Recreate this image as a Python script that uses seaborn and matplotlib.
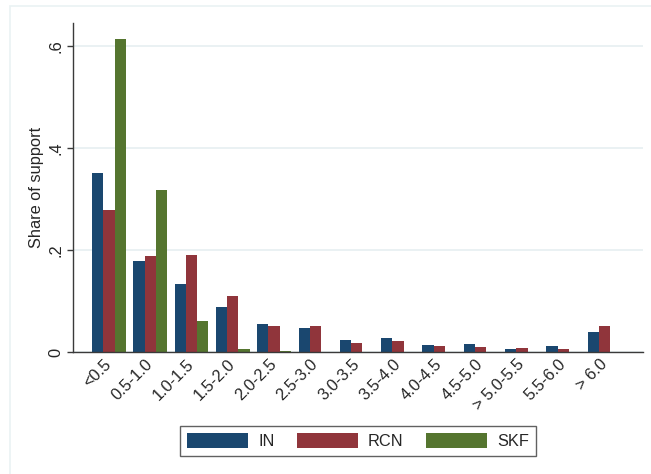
import numpy as np
import pandas as pd
import matplotlib
matplotlib.use('Agg')
import matplotlib.pyplot as plt
import seaborn as sns
from matplotlib.patches import Rectangle
from matplotlib.ticker import FuncFormatter

# data
bins = ['<0.5', '0.5-1.0', '1.0-1.5', '1.5-2.0', '2.0-2.5', '2.5-3.0', '3.0-3.5',
        '3.5-4.0', '4.0-4.5', '4.5-5.0', '> 5.0-5.5', '5.5-6.0', '> 6.0']
share_in = [0.351, 0.179, 0.134, 0.089, 0.056, 0.048, 0.024, 0.027, 0.014, 0.016, 0.007, 0.013, 0.040]
share_rcn = [0.279, 0.188, 0.190, 0.110, 0.052, 0.051, 0.018, 0.023, 0.012, 0.011, 0.008, 0.006, 0.051]
share_skf = [0.613, 0.318, 0.061, 0.006, 0.002, 0.0, 0.0, 0.0, 0.0, 0.0, 0.0, 0.0, 0.0]
groups = ['IN', 'RCN', 'SKF']
colors = ['#1a476f', '#90353b', '#55752f']

df = pd.DataFrame({
    'bin': bins * 3,
    'share': share_in + share_rcn + share_skf,
    'group': ['IN'] * len(bins) + ['RCN'] * len(bins) + ['SKF'] * len(bins),
})

sns.set_style('white')
plt.rcParams['font.family'] = ['Liberation Sans', 'DejaVu Sans']
fs = 11.8

fig = plt.figure(figsize=(6.51, 4.74), dpi=100)
ax = fig.add_axes([0.1121, 0.2568, 0.8756, 0.6947])

sns.barplot(data=df, x='bin', y='share', hue='group', order=bins, hue_order=groups,
            palette=colors, saturation=1, width=0.82, linewidth=0, ax=ax)

ax.set_xlim(-0.87, 12.93)
ax.set_ylim(0, 0.645)
ax.set_yticks([0, 0.2, 0.4, 0.6])
ax.yaxis.set_major_formatter(FuncFormatter(lambda v, p: '0' if v == 0 else ('%.1f' % v).lstrip('0')))
ax.grid(axis='y', color='#e6eff1', linewidth=1.2)
ax.set_axisbelow(True)

for s in ['top', 'right']:
    ax.spines[s].set_visible(False)
for s in ['left', 'bottom']:
    ax.spines[s].set_color('#3a3a3a')
    ax.spines[s].set_linewidth(1.0)

ax.tick_params(axis='y', length=4, width=1, color='#3a3a3a', pad=3, labelsize=fs, left=True)
for t in ax.get_yticklabels():
    t.set_rotation(90)
    t.set_va('center')
ax.tick_params(axis='x', length=0, pad=7, labelsize=fs)
for t in ax.get_xticklabels():
    t.set_rotation(45)
    t.set_ha('right')
    t.set_va('center')
    t.set_rotation_mode('anchor')

ax.set_xlabel('')
ax.set_ylabel('Share of support', fontsize=fs)
ax.yaxis.set_label_coords(-0.051, 0.5)

sns.move_legend(ax, 'center', bbox_to_anchor=(358 / 651, 0.0696), bbox_transform=fig.transFigure,
                ncol=3, title=None, frameon=True, fontsize=fs, handlelength=3.75,
                handleheight=1.05, handletextpad=0.6, columnspacing=1.35,
                borderpad=0.45, fancybox=False)
leg = ax.get_legend()
leg.get_frame().set_edgecolor('#3a3a3a')
leg.get_frame().set_linewidth(1.0)

# faint outer graph-region border
fig.patches.append(Rectangle((10 / 651, -0.01), 1.0, 1.01 - 6 / 474, transform=fig.transFigure,
                             fill=False, edgecolor='#eaf2f3', linewidth=1.2))

fig.savefig('out.png', dpi=100)
